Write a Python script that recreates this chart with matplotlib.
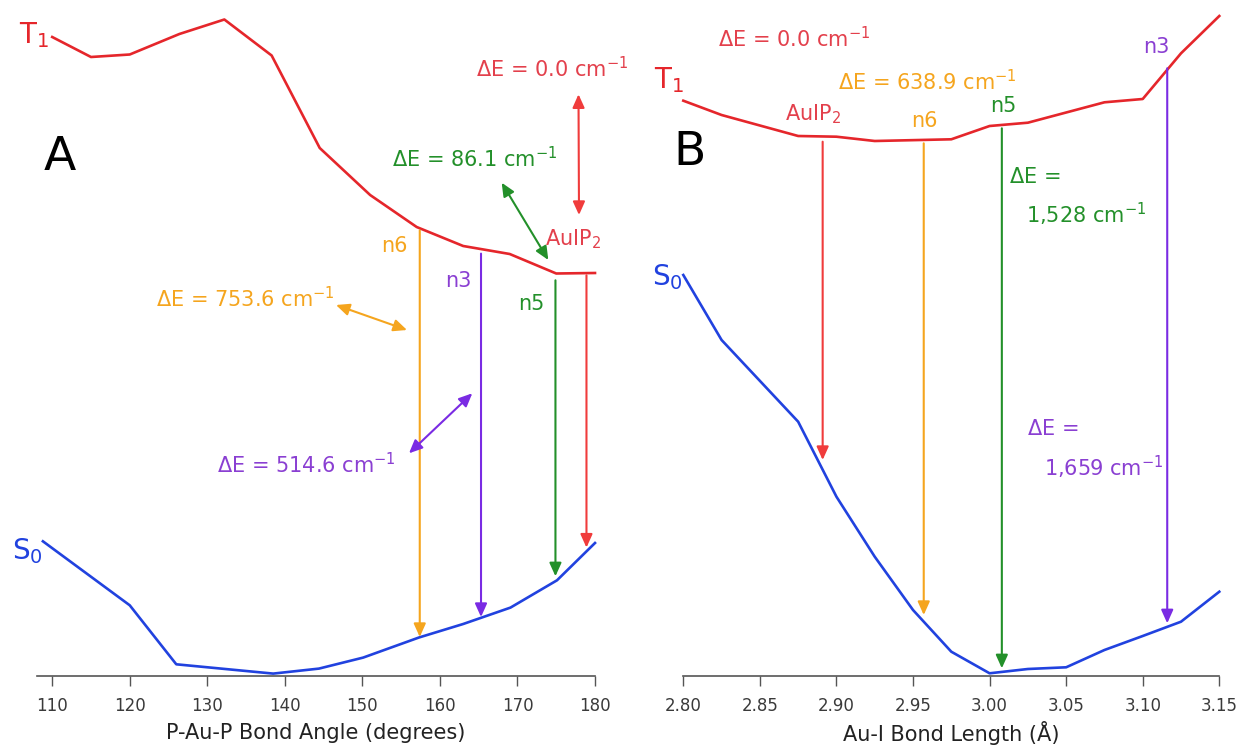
import matplotlib
matplotlib.use('Agg')
import matplotlib.pyplot as plt

plt.rcParams['font.family'] = ['DejaVu Sans']
plt.rcParams['mathtext.fontset'] = 'dejavusans'
plt.rcParams['mathtext.default'] = 'regular'

W, H = 1240, 748

# --- panel A: P-Au-P bond angle scan (relative energy, arb. units) --- #
angle_t1 = [110, 115, 120, 126.4, 132.2, 138.3, 144.5, 151, 157, 163, 169, 175, 180]
energy_t1_a = [639, 619, 621.5, 642, 656.5, 620.5, 528, 481, 449, 430, 422, 402.5, 403]
angle_s0 = [108.8, 120, 126, 138.5, 144.4, 150.1, 157.3, 163, 169.1, 175.1, 180]
energy_s0_a = [134.7, 70.7, 11.7, 2.4, 7.4, 18.4, 38.5, 52, 68.4, 95.7, 133]

# vertical T1 -> S0 transitions
trans_a_names = ['n6', 'n3', 'n5', 'AuIP2']
trans_a_x = [157.4, 165.3, 174.9, 178.9]
trans_a_top = [445.7, 422.4, 395.7, 400.7]
trans_a_bottom = [39, 59, 99.7, 128.4]
dE_a = ['753.6', '514.6', '86.1', '0.0']

# --- panel B: Au-I bond length scan --- #
length_t1 = [2.80, 2.825, 2.875, 2.90, 2.925, 2.975, 3.00, 3.025, 3.075, 3.10, 3.125, 3.15]
energy_t1_b = [575.3, 561, 540, 539.3, 535, 536.7, 550, 553.3, 573.7, 577, 622.7, 660]
length_s0 = [2.80, 2.825, 2.875, 2.90, 2.925, 2.95, 2.975, 3.00, 3.025, 3.05, 3.075, 3.10, 3.125, 3.15]
energy_s0_b = [401, 336, 254.3, 179.3, 119.3, 66, 24.3, 2.7, 7, 8.7, 26, 40, 54.3, 84.3]

trans_b_names = ['AuIP2', 'n6', 'n5', 'n3']
trans_b_x = [2.891, 2.957, 3.008, 3.116]
trans_b_top = [534.3, 532.7, 547.7, 607.7]
trans_b_bottom = [216, 61, 7.7, 52.7]
dE_b = ['0.0', '638.9', '1,528', '1,659']

ticks_a = [110, 120, 130, 140, 150, 160, 170, 180]
ticks_b = [2.80, 2.85, 2.90, 2.95, 3.00, 3.05, 3.10, 3.15]

# colours
RED = '#e5262b'
RED_ARROW = '#f03c3c'
RED_TEXT = '#e3404c'
ORANGE = '#f5a51e'
GREEN = '#23902a'
PURPLE = '#7a2be3'
PURPLE_TEXT = '#8a3fd2'
BLUE = '#2142df'
name_color = {'n6': ORANGE, 'n3': PURPLE, 'n5': GREEN, 'AuIP2': RED_ARROW}
text_color = {'n6': ORANGE, 'n3': PURPLE_TEXT, 'n5': GREEN, 'AuIP2': RED_TEXT}
name_tex = {'n6': 'n6', 'n3': 'n3', 'n5': 'n5', 'AuIP2': 'AuIP$_2$'}

fig = plt.figure(figsize=(W / 100, H / 100), dpi=100)
axA = fig.add_axes([36.7 / W, 72 / H, (595 - 36.7) / W, 676 / H])
axB = fig.add_axes([683.3 / W, 72 / H, (1219.3 - 683.3) / W, 676 / H])


def fig_xy(x, y):
    # pixel position (from top-left) -> figure fraction
    return x / W, 1 - y / H


def fig_text(x, y, s, color, size=15):
    fx, fy = fig_xy(x, y)
    fig.text(fx, fy, s, color=color, fontsize=size, ha='left', va='baseline')


def fig_double_arrow(x0, y0, x1, y1, color):
    axA.annotate('', xy=fig_xy(x1, y1), xytext=fig_xy(x0, y0),
                 xycoords='figure fraction', textcoords='figure fraction',
                 arrowprops=dict(arrowstyle='<|-|>,head_length=0.8,head_width=0.36',
                                 color=color, lw=1.5, shrinkA=0, shrinkB=0),
                 annotation_clip=False)


def style_axis(ax, xlim, ticks, fmt, label):
    ax.set_xlim(*xlim)
    ax.set_ylim(0, 676)
    for s in ['top', 'left', 'right']:
        ax.spines[s].set_visible(False)
    ax.spines['bottom'].set_color('#555555')
    ax.spines['bottom'].set_linewidth(1.2)
    ax.set_yticks([])
    ax.set_xticks(ticks)
    ax.set_xticklabels([fmt % t for t in ticks])
    ax.tick_params(axis='x', direction='out', length=7, width=1.0, color='#555555',
                   labelsize=12, labelcolor='#3a3a3a', pad=8)
    ax.set_xlabel(label, fontsize=15, color='#222222', va='center')
    ax.xaxis.set_label_coords(0.5, -0.085)
    ax.patch.set_visible(False)


def draw_transitions(ax, names, xs, tops, bottoms):
    for n, x, t, b in zip(names, xs, tops, bottoms):
        ax.annotate('', xy=(x, b), xytext=(x, t),
                    arrowprops=dict(arrowstyle='-|>,head_length=0.8,head_width=0.36',
                                    color=name_color[n], lw=1.5, shrinkA=0, shrinkB=0),
                    annotation_clip=False)


# --- panel A --- #
axA.plot(angle_t1, energy_t1_a, color=RED, lw=1.9, clip_on=False)
axA.plot(angle_s0, energy_s0_a, color=BLUE, lw=1.9, clip_on=False)
draw_transitions(axA, trans_a_names, trans_a_x, trans_a_top, trans_a_bottom)
style_axis(axA, (108, 180), ticks_a, '%d', 'P-Au-P Bond Angle (degrees)')

# --- panel B --- #
axB.plot(length_t1, energy_t1_b, color=RED, lw=1.9, clip_on=False)
axB.plot(length_s0, energy_s0_b, color=BLUE, lw=1.9, clip_on=False)
draw_transitions(axB, trans_b_names, trans_b_x, trans_b_top, trans_b_bottom)
style_axis(axB, (2.80, 3.15), ticks_b, '%.2f', 'Au-I Bond Length (\u00c5)')

# --- labels --- #
dE = r'$\Delta$E = %s cm$^{-1}$'

# state labels and panel letters
fig_text(19.5, 43.3, 'T$_1$', RED, 20)
fig_text(11.9, 559, 'S$_0$', BLUE, 20)
fig_text(653.6, 88.3, 'T$_1$', RED, 20)
fig_text(651.6, 285, 'S$_0$', BLUE, 20)
fig_text(43.5, 170, 'A', 'black', 34)
fig_text(673.4, 165, 'B', 'black', 34)

# panel A transition names
pos_names_a = [(381, 252), (445, 286.7), (518.6, 310), (545, 245.5)]
for n, (x, y) in zip(trans_a_names, pos_names_a):
    fig_text(x, y, name_tex[n], text_color[n])

# panel A energy gaps with pointer arrows
pos_dE_a = [(156, 307), (217.4, 472.7), (391.5, 167), (476, 77)]
arrows_a = [(336, 305, 407, 330), (409, 453.3, 472.3, 393.3),
            (501.7, 182.7, 548.3, 260), (578.5, 94.3, 579, 215)]
for n, v, (x, y), arr in zip(trans_a_names, dE_a, pos_dE_a, arrows_a):
    fig_text(x, y, dE % v, text_color[n])
    fig_double_arrow(*arr, name_color[n])

# panel B transition names
pos_names_b = [(785, 120), (910.7, 126.7), (990, 111.7), (1143.3, 53.3)]
for n, (x, y) in zip(trans_b_names, pos_names_b):
    fig_text(x, y, name_tex[n], text_color[n])

# panel B energy gaps
fig_text(718.3, 47.3, dE % dE_b[0], RED_TEXT)
fig_text(838.3, 90, dE % dE_b[1], ORANGE)
fig_text(1009.3, 183.3, r'$\Delta$E =', GREEN)
fig_text(1026.3, 222.7, r'%s cm$^{-1}$' % dE_b[2], GREEN)
fig_text(1027, 435, r'$\Delta$E =', PURPLE_TEXT)
fig_text(1043.7, 476, r'%s cm$^{-1}$' % dE_b[3], PURPLE_TEXT)

fig.savefig('out.png', dpi=100)
